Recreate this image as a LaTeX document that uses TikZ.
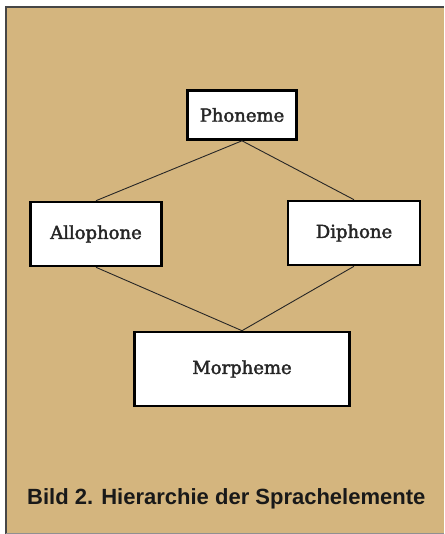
\documentclass[tikz,border=0pt]{standalone}
\usepackage{fontspec}
\usepackage{xcolor}
\usepackage{tikz}
\usetikzlibrary{positioning}
\setmainfont[FakeBold=2.2,AutoFakeBold=2.2]{DejaVu Serif}
\newfontfamily\capfont{Liberation Sans}
\definecolor{tan}{RGB}{212,181,126}
\definecolor{rim}{RGB}{70,70,70}

\begin{document}
\begin{tikzpicture}[x=1pt,y=-1pt,
    element/.style={draw=black,line width=2.6pt,fill=white,inner sep=0pt,font=\bfseries\fontsize{18}{20}\selectfont,text=black!85},
    link/.style={draw=black!85,line width=0.9pt}]
    % Panel
    \useasboundingbox (0,0) rectangle (444,534);
    \fill[white] (0,0) rectangle (444,534);
    \fill[tan] (6,7) rectangle (444,534);
    \draw[rim,line width=1.4pt] (6,534) -- (6,7) -- (444,7);
    \draw[rim!60,line width=0.8pt] (6,533) -- (444,533);

    % Elements
    \node[element,minimum width=109pt,minimum height=49pt] (phon) at (242,115) {Phoneme};
    \node[element,minimum width=131pt,minimum height=64pt] (allo) at (96,234) {Allophone};
    \node[element,minimum width=132pt,minimum height=64pt] (diph) at (354,233) {Diphone};
    \node[element,minimum width=215pt,minimum height=74pt] (morph) at (242,369) {Morpheme};

    % Links
    \draw[link] (phon.south) -- (allo.north);
    \draw[link] (phon.south) -- (diph.north);
    \draw[link] (allo.south) -- (morph.north);
    \draw[link] (diph.south) -- (morph.north);

    % Caption
    \node[anchor=west,inner sep=0pt,font=\capfont\bfseries\fontsize{22}{24}\selectfont,text=black!90] (cap) at (27,499) {Bild 2. Hierarchie der Sprachelemente};
\end{tikzpicture}
\end{document}
